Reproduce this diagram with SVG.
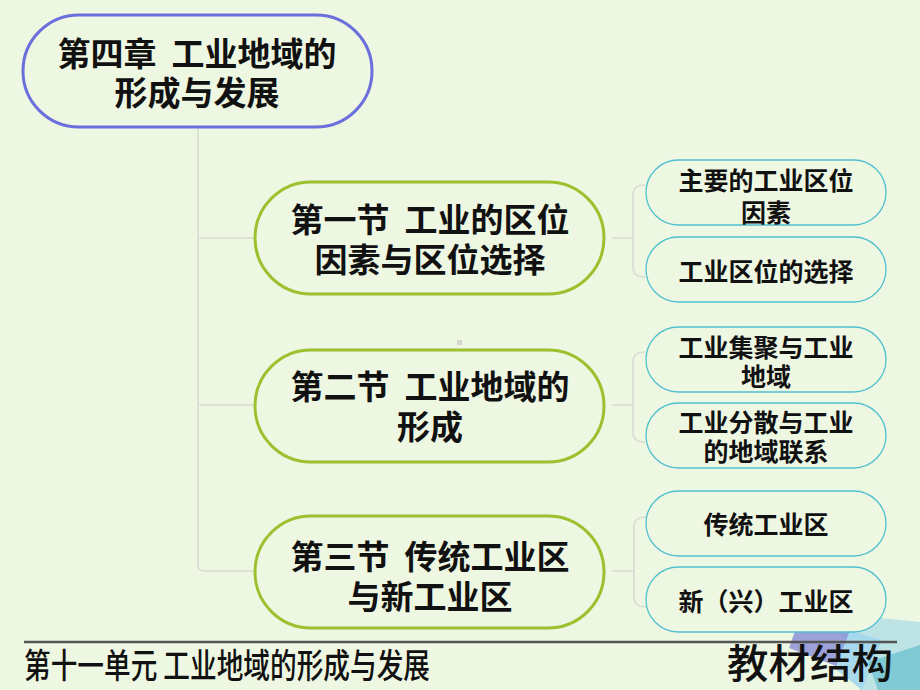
<svg xmlns="http://www.w3.org/2000/svg" width="920" height="690" viewBox="0 0 920 690">
<style>
.t{font-family:"Noto Sans CJK SC","Noto Sans",sans-serif;font-weight:bold;fill:#111;text-anchor:middle;dominant-baseline:central;white-space:pre}
.big{font-size:33px}
.small{font-size:25px}
.root{fill:#eef7e2;stroke:#6b6fdc;stroke-width:3}
.sec{fill:#eef7e2;stroke:#9cc02e;stroke-width:3}
.leaf{fill:#eef7e2;stroke:#4fc0cf;stroke-width:1.3}
.conn{fill:none;stroke:#d8dcd4;stroke-width:1.5}
.foot{font-family:"Noto Sans CJK SC","Noto Sans",sans-serif;fill:#111;font-weight:500}
</style>
<rect width="920" height="690" fill="#eef7e2"/>
<g id="decoration">
<polygon points="822,612 920,622 920,690 860,690 845,640" fill="#b5dfe4" opacity="0.85"/>
<polygon points="848,630 882,640 862,690 834,668" fill="#a3d6ee" opacity="0.9"/>
<polygon points="868,662 920,645 920,690 878,690" fill="#79c6d4" opacity="0.9"/>
<polygon points="803,609 850,630 836,666 789,648" fill="#8d93d6" opacity="0.85"/>
</g>
<rect x="457" y="340" width="5" height="5" fill="#d4d8cf"/>
<g id="connectors">
<path class="conn" d="M198,127 V565 Q198,571 204,571 H255"/>
<path class="conn" d="M198,238 H255"/>
<path class="conn" d="M198,405 H255"/>
<path class="conn" d="M612,238 H633 M645,185 Q633,185 633,195 V267 Q633,277 645,277"/>
<path class="conn" d="M612,405 H633 M645,352 Q633,352 633,362 V432 Q633,442 645,442"/>
<path class="conn" d="M612,571 H634 M646,517 Q634,517 634,527 V597 Q634,607 646,607"/>
</g>
<g id="root">
<rect class="root" x="23" y="15" width="349" height="112" rx="56"/>
<text class="t big" x="197" y="52">第四章  工业地域的</text>
<text class="t big" x="197" y="91">形成与发展</text>
</g>
<g id="sec1">
<rect class="sec" x="255" y="182" width="349" height="112" rx="56"/>
<text class="t big" x="430" y="218">第一节  工业的区位</text>
<text class="t big" x="430" y="258">因素与区位选择</text>
</g>
<g id="sec2">
<rect class="sec" x="255" y="350" width="349" height="112" rx="56"/>
<text class="t big" x="430" y="385">第二节  工业地域的</text>
<text class="t big" x="430" y="425">形成</text>
</g>
<g id="sec3">
<rect class="sec" x="255" y="516" width="349" height="112" rx="56"/>
<text class="t big" x="430" y="555">第三节  传统工业区</text>
<text class="t big" x="430" y="595">与新工业区</text>
</g>
<g id="leaf1">
<rect class="leaf" x="646" y="160" width="240" height="65" rx="32.5"/>
<text class="t small" x="766" y="179">主要的工业区位</text>
<text class="t small" x="766" y="211">因素</text>
</g>
<g id="leaf2">
<rect class="leaf" x="646" y="237" width="240" height="65" rx="32.5"/>
<text class="t small" x="766" y="270">工业区位的选择</text>
</g>
<g id="leaf3">
<rect class="leaf" x="646" y="327" width="240" height="65" rx="32.5"/>
<text class="t small" x="766" y="346">工业集聚与工业</text>
<text class="t small" x="766" y="375">地域</text>
</g>
<g id="leaf4">
<rect class="leaf" x="646" y="403" width="240" height="65" rx="32.5"/>
<text class="t small" x="766" y="421">工业分散与工业</text>
<text class="t small" x="766" y="450">的地域联系</text>
</g>
<g id="leaf5">
<rect class="leaf" x="646" y="491" width="240" height="65" rx="32.5"/>
<text class="t small" x="766" y="523">传统工业区</text>
</g>
<g id="leaf6">
<rect class="leaf" x="646" y="567" width="240" height="65" rx="32.5"/>
<text class="t small" x="766" y="600">新（兴）工业区</text>
</g>
<g id="footer">
<line x1="24" y1="642" x2="897" y2="642" stroke="#555" stroke-width="2.5"/>
<text class="foot" x="24" y="678" font-size="34" textLength="406" lengthAdjust="spacingAndGlyphs">第十一单元 工业地域的形成与发展</text>
<text class="foot" x="727" y="678" font-size="40" textLength="166" lengthAdjust="spacingAndGlyphs">教材结构</text>
</g>
</svg>
